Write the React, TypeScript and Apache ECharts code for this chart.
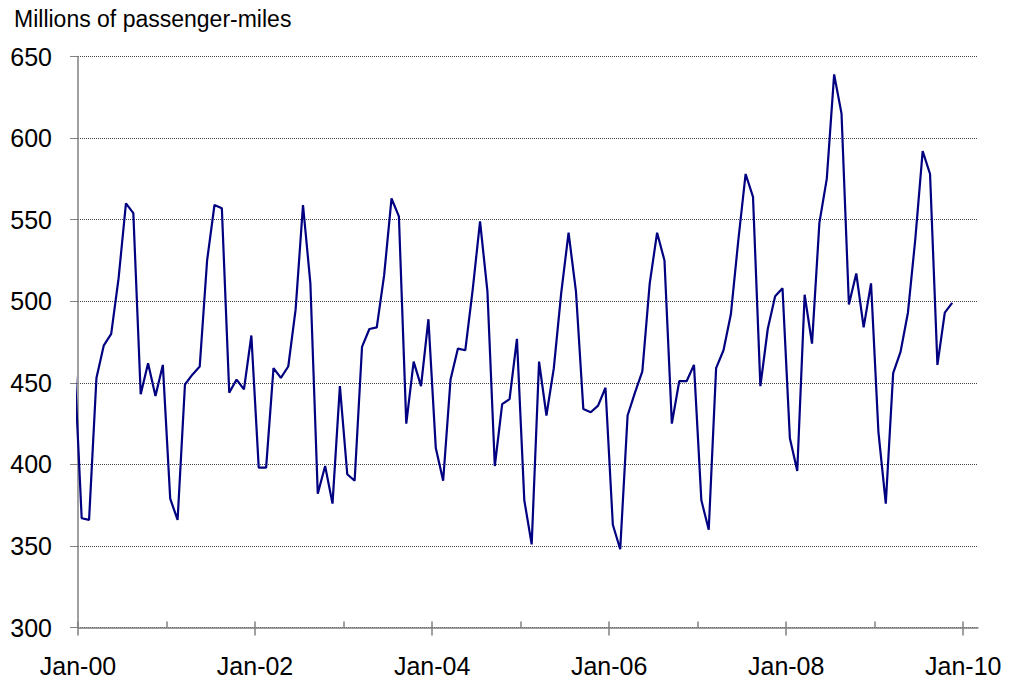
import React, { useEffect, useRef } from "react";
import * as echarts from "echarts";

// Monthly passenger-miles (millions); first value is Dec-99 (month index -1 from Jan-00)
const FIRST_MONTH_INDEX = -1;
const passengerMiles: number[] = [
  463,
  // 2000
  367, 366, 453, 473, 480, 514, 560, 554, 443, 462, 442, 461,
  // 2001
  379, 366, 449, 455, 460, 525, 559, 557, 444, 452, 446, 479,
  // 2002
  398, 398, 459, 453, 460, 495, 559, 511, 382, 399, 376, 448,
  // 2003
  394, 390, 472, 483, 484, 516, 563, 552, 425, 463, 448, 489,
  // 2004
  410, 390, 452, 471, 470, 507, 549, 506, 399, 437, 440, 477,
  // 2005
  378, 351, 463, 430, 459, 505, 542, 506, 434, 432, 436, 447,
  // 2006
  363, 348, 430, 444, 457, 511, 542, 525, 425, 451, 451, 461,
  // 2007
  378, 360, 459, 470, 492, 537, 578, 564, 448, 483, 503, 508,
  // 2008
  416, 396, 504, 474, 548, 575, 639, 615, 498, 517, 484, 511,
  // 2009 (Jan-Nov)
  420, 376, 456, 469, 493, 538, 592, 578, 461, 493, 499,
];

const xTickLabels = ["Jan-00", "Jan-02", "Jan-04", "Jan-06", "Jan-08", "Jan-10"];
const xMajorTicks = [0, 24, 48, 72, 96, 120];
const xMinorTicks = [0, 12, 24, 36, 48, 60, 72, 84, 96, 108, 120];
const yTicks = [300, 350, 400, 450, 500, 550, 600, 650];
const titleText = "Millions of passenger-miles";

const FONT = "'Liberation Sans', Arial, Helvetica, sans-serif";

export default function App() {
  const ref = useRef<HTMLDivElement>(null);

  useEffect(() => {
    if (!ref.current) return;
    const chart = echarts.init(ref.current, null, { renderer: "svg" });
    const seriesData = passengerMiles.map((v, i) => [FIRST_MONTH_INDEX + i + 0.5, v]);
    chart.setOption({
      animation: false,
      backgroundColor: "#ffffff",
      title: {
        text: titleText,
        left: 9,
        top: 2,
        textStyle: { fontSize: 23, fontWeight: "normal", fontFamily: FONT, color: "#000" },
      },
      grid: { left: 78, right: 32, top: 56.5, bottom: 56.4, containLabel: false },
      xAxis: [
        {
          type: "value",
          min: 0,
          max: 122,
          position: "bottom",
          axisLine: { show: true, lineStyle: { color: "#808080", width: 1.5 } },
          axisTick: {
            show: true,
            inside: false,
            length: 8,
            customValues: xMajorTicks,
            lineStyle: { color: "#808080", width: 1.5 },
          },
          axisLabel: {
            show: true,
            customValues: xMajorTicks,
            formatter: (v: number) => xTickLabels[Math.round(v / 24)] ?? "",
            fontSize: 25,
            fontFamily: FONT,
            color: "#000",
            margin: 26,
          },
          splitLine: { show: false },
        },
        {
          type: "value",
          min: 0,
          max: 122,
          position: "bottom",
          axisLine: { show: false },
          axisTick: {
            show: true,
            inside: true,
            length: 6,
            customValues: xMinorTicks,
            lineStyle: { color: "#808080", width: 1.5 },
          },
          axisLabel: { show: false },
          splitLine: { show: false },
        },
      ],
      yAxis: {
        type: "value",
        min: yTicks[0],
        max: yTicks[yTicks.length - 1],
        interval: 50,
        axisLine: { show: true, lineStyle: { color: "#808080", width: 1.5 } },
        axisTick: { show: true, inside: false, length: 8, lineStyle: { color: "#808080", width: 1 } },
        axisLabel: {
          fontSize: 25,
          fontFamily: FONT,
          color: "#000",
          margin: 26,
        },
        splitLine: { show: true, lineStyle: { color: "#444", type: [1, 1], width: 1 } },
      },
      series: [
        {
          type: "line",
          xAxisIndex: 0,
          data: seriesData,
          showSymbol: false,
          symbol: "none",
          clip: true,
          lineStyle: { color: "#000080", width: 2.2 },
          itemStyle: { color: "#000080" },
        },
      ],
    });
    return () => chart.dispose();
  }, []);

  return (
    <div
      ref={ref}
      style={{ position: "absolute", left: 0, top: 0, width: 1010, height: 684, background: "#fff" }}
    />
  );
}
